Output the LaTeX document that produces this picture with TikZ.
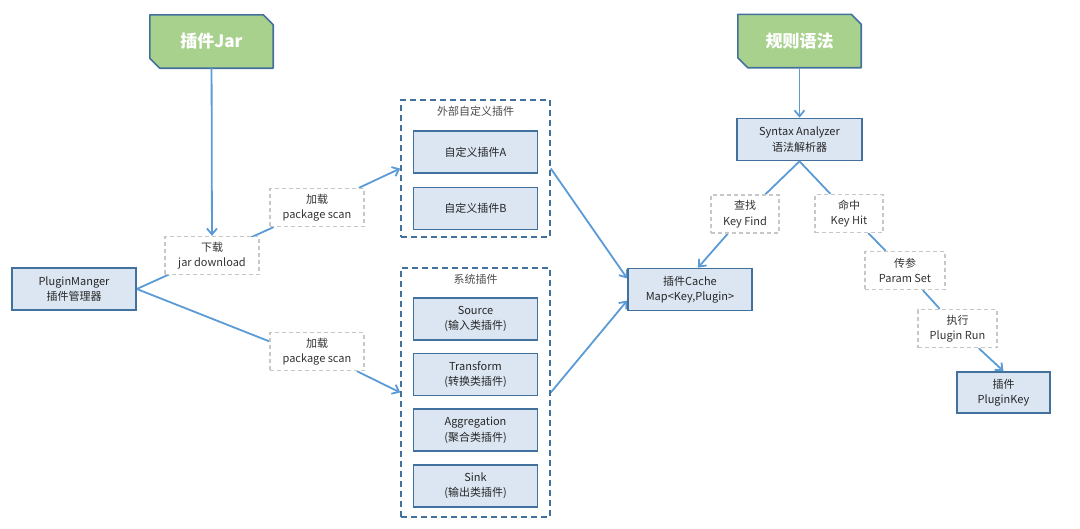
\documentclass[tikz,border=0pt]{standalone}
\usepackage{fontspec}
\setmainfont{Noto Sans CJK SC}
\usetikzlibrary{positioning, arrows.meta, backgrounds}
\definecolor{boxfill}{HTML}{DCE6F2}
\definecolor{boxline}{HTML}{41719C}
\definecolor{titlefill}{HTML}{A9D18E}
\definecolor{wire}{HTML}{5B9BD5}

\begin{document}
\begin{tikzpicture}[
        x=1pt, y=-1pt,
        node distance = 12pt,
        box/.style   = {draw=boxline, fill=boxfill, line width=1.6pt, minimum width=124pt, minimum height=42pt, inner sep=0pt, align=center, font=\fontsize{11}{15.5}\selectfont, text=black!85},
        tag/.style   = {draw=black!22, dash pattern=on 4pt off 3pt, line width=1.3pt, fill=white, minimum width=94pt, minimum height=38pt, inner sep=0pt, align=center, font=\fontsize{11}{15.5}\selectfont, text=black!80},
        group/.style = {draw=boxline, dash pattern=on 6pt off 4pt, line width=1.6pt, inner sep=0pt, minimum width=149pt},
        head/.style  = {font=\fontsize{11}{13}\selectfont, text=black!70},
        title/.style = {minimum width=123pt, minimum height=53pt, inner sep=0pt, font=\fontsize{17}{20}\selectfont\bfseries, text=white},
        frame/.style = {draw=boxline, fill=titlefill, line width=1.6pt, line join=round},
        arrow/.style = {-{Straight Barb[length=6pt, width=10pt]}, line width=1.8pt, draw=wire},
        link/.style  = {line width=1.8pt, draw=wire},
    ]
        \useasboundingbox (0,0) rectangle (1080,528);
        \node[title] (jar)  at (211.5,41.5) {插件Jar};
        \node[title] (rule) at (799.5,41)   {规则语法};
        \node[box] (pm) at (74,289) {PluginManger\\插件管理器};
        \node[tag] (dl)    at (212,255.5) {下载\\jar download};
        \node[tag] (scanA) at (317,207.5) {加载\\package scan};
        \node[tag] (scanB) at (317,351.5) {加载\\package scan};

        \node[group, minimum height=137pt] (ext) at (475.5,168.5) {};
        \node[head, below=3pt of ext.north] (extT) {外部自定义插件};
        \node[box, below=31pt of ext.north] (plugA) {自定义插件A};
        \node[box, below=13pt of plugA] (plugB) {自定义插件B};

        \node[group, minimum height=249pt] (sys) at (475.5,392.5) {};
        \node[head, below=3pt of sys.north] (sysT) {系统插件};
        \node[box, below=30pt of sys.north] (src)   {Source\\(输入类插件)};
        \node[box, below=of src]   (trans) {Transform\\(转换类插件)};
        \node[box, below=of trans] (agg)   {Aggregation\\(聚合类插件)};
        \node[box, below=of agg]   (sink)  {Sink\\(输出类插件)};

        \node[box] (cache) at (690,289.5) {插件Cache\\Map<Key,Plugin>};
        \node[box, minimum width=125pt] (syn) at (799.5,139.5) {Syntax Analyzer\\语法解析器};
        \node[tag, minimum width=68pt] (kf) at (745,214)   {查找\\Key Find};
        \node[tag, minimum width=68pt] (kh) at (849,213.5) {命中\\Key Hit};
        \node[tag, minimum width=80pt] (ps) at (905,270.5) {传参\\Param Set};
        \node[tag, minimum width=79pt] (pr) at (957.5,328.5) {执行\\Plugin Run};
        \node[box, minimum width=93pt, minimum height=41pt] (pk) at (1003.5,392.5) {插件\\PluginKey};

        \begin{scope}[on background layer]
            \foreach \t in {jar, rule}
                \draw[frame] (\t.north west) -- ([xshift=-10pt]\t.north east) -- ([yshift=-10pt]\t.north east)
                    -- (\t.south east) -- ([xshift=10pt]\t.south west) -- ([yshift=10pt]\t.south west) -- cycle;
            \draw[arrow] (jar) -- (dl);
            \draw[link] (pm.east) -- (scanA);
            \draw[arrow] (scanA) -- (ext.west);
            \draw[link] (pm.east) -- (scanB.168);
            \draw[arrow] (scanB) -- (sys.west);
            \draw[arrow] (ext.east) -- (cache.170);
            \draw[arrow] (sys.east) -- (cache.190);
            \draw[arrow] (rule) -- (syn);
            \draw[link] (syn.south) -- (kf);
            \draw[arrow] (kf) -- (cache.70);
            \draw[link] (syn.south) -- (kh);
            \draw[link] (kh) -- (ps);
            \draw[link] (ps) -- (pr);
            \draw[arrow] (pr) -- (pk.north);
        \end{scope}
    \end{tikzpicture}
\end{document}
